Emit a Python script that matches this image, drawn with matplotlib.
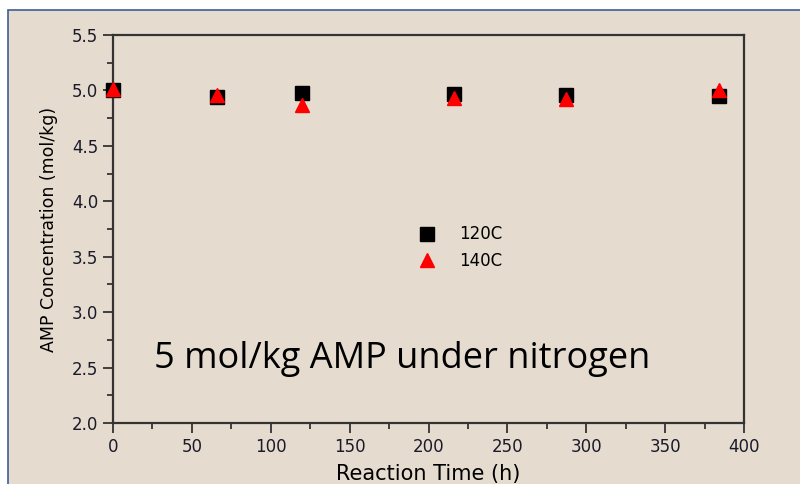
import matplotlib.pyplot as plt
from matplotlib.patches import Rectangle
from matplotlib.ticker import MultipleLocator

# data
time_120 = [0, 66, 120, 216, 287, 384]
conc_120 = [5.00, 4.94, 4.98, 4.97, 4.96, 4.95]
time_140 = [0, 66, 120, 216, 287, 384]
conc_140 = [5.01, 4.96, 4.87, 4.93, 4.92, 5.00]

plt.rcParams['font.family'] = ['DejaVu Sans']

fig = plt.figure(figsize=(8, 4.84), dpi=100)
fig.patch.set_facecolor('white')

# slide-like beige panel with a thin blue border
panel = Rectangle((8 / 800, -0.1), 1.1, 1 - 10 / 484 + 0.1, transform=fig.transFigure,
                  facecolor='#e5dccf', edgecolor='#3b5f98', linewidth=1.2, zorder=-5)
fig.patches.append(panel)

ax = fig.add_axes([113 / 800, 1 - 423 / 484, 631 / 800, 388 / 484])
ax.patch.set_alpha(0)

ax.plot(time_120, conc_120, 's', color='black', ms=9.5, label='120C', clip_on=False, zorder=3)
ax.plot(time_140, conc_140, '^', color='red', ms=10, label='140C', clip_on=False, zorder=4)

ax.set_xlim(0, 400)
ax.set_ylim(2.0, 5.5)
ax.xaxis.set_major_locator(MultipleLocator(50))
ax.xaxis.set_minor_locator(MultipleLocator(25))
ax.yaxis.set_major_locator(MultipleLocator(0.5))
ax.yaxis.set_minor_locator(MultipleLocator(0.25))
ax.tick_params(which='both', direction='out', color='#333333', width=1.3, labelsize=12,
               labelcolor='#1a1a2a')
ax.tick_params(which='major', length=7)
ax.tick_params(which='minor', length=4)
ax.yaxis.set_major_formatter('{x:.1f}')
for s in ax.spines.values():
    s.set_color('#333333')
    s.set_linewidth(1.6)

ax.set_xlabel('Reaction Time (h)', fontsize=15, labelpad=6)
ax.set_ylabel('AMP Concentration (mol/kg)', fontsize=12.5, labelpad=10)

ax.legend(loc='center', bbox_to_anchor=(0.547, 0.452), frameon=False, fontsize=12,
          handletextpad=1.2, labelspacing=0.5, handlelength=1.5)

ax.text(0.065, 0.165, '5 mol/kg AMP under nitrogen', transform=ax.transAxes,
        fontsize=26, family=['Open Sans', 'DejaVu Sans'], color='black', va='center')

fig.savefig('out.png', dpi=100)
